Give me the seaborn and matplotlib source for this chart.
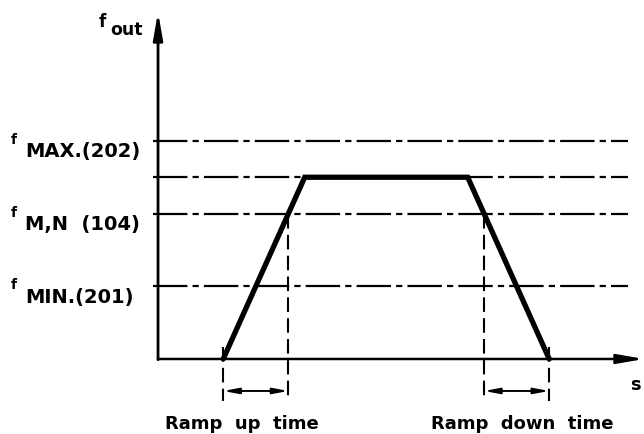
import matplotlib
matplotlib.use("Agg")
import matplotlib.pyplot as plt
import matplotlib.transforms as mtransforms
import seaborn as sns
import pandas as pd

# ---------------- data ----------------
ramp_time = [0.8, 1.8, 3.8, 4.8]          # time points of the speed profile
ramp_freq = [0.0, 2.5, 2.5, 0.0]          # output frequency at those times
level_names = ["MAX.(202)", "M,N  (104)", "MIN.(201)"]
level_values = [3.0, 2.0, 1.0]
plateau_level = 2.5
ramp_up_marks = [0.8, 1.6]                # start / reach f_M,N
ramp_down_marks = [4.0, 4.8]              # leave f_M,N / stop
bottom_labels = ["Ramp  up  time", "Ramp  down  time"]
y_label_text = ("f", "out")
x_label_text = "s"

# ---------------- figure ----------------
sns.set_theme(style="white")
plt.rcParams["font.family"] = ["DejaVu Sans"]
plt.rcParams["text.color"] = "black"
fig = plt.figure(figsize=(6.44, 4.35), dpi=100)
ax = fig.add_axes([0, 0, 1, 1])
XLIM = (-1.939, 5.963)
YLIM = (-1.032, 4.952)

blend = mtransforms.blended_transform_factory(ax.transAxes, ax.transData)

# dash-dot horizontal reference lines
dashdot = (0, (15.5, 2.3, 2.8, 2.3))
for lv in level_values + [plateau_level]:
    ax.plot([0.2379, 0.975], [lv, lv], transform=blend, color="black",
            lw=1.6, linestyle=dashdot, dash_capstyle="butt")

# axes with arrows
ax.annotate("", xy=(5.963, 0), xytext=(0, 0),
            arrowprops=dict(arrowstyle="-|>,head_length=1.6,head_width=0.28",
                            lw=1.8, color="black", mutation_scale=10,
                            shrinkA=0, shrinkB=0))
ax.annotate("", xy=(0, 4.773), xytext=(0, -0.01),
            arrowprops=dict(arrowstyle="-|>,head_length=1.6,head_width=0.28",
                            lw=2.0, color="black", mutation_scale=10,
                            shrinkA=0, shrinkB=0))

# vertical dashed construction lines
dim_y = -0.44
bottom_y = -0.58
for t in [ramp_up_marks[0], ramp_down_marks[1]]:
    ax.plot([t, t], [0.16, bottom_y], color="black", lw=1.5,
            linestyle=(0, (7, 3)))
for t in [ramp_up_marks[1], ramp_down_marks[0]]:
    ax.plot([t, t], [level_values[1], bottom_y], color="black", lw=1.5,
            linestyle=(0, (7, 3)))

# dimension arrows
for a, b in [ramp_up_marks, ramp_down_marks]:
    ax.annotate("", xy=(b, dim_y), xytext=(a, dim_y),
                arrowprops=dict(arrowstyle="<|-|>,head_length=0.9,head_width=0.17",
                                lw=1.4, color="black", mutation_scale=10,
                                shrinkA=0, shrinkB=0))

# speed profile
df = pd.DataFrame({"t": ramp_time, "f": ramp_freq})
sns.lineplot(data=df, x="t", y="f", ax=ax, color="black", lw=3.8,
             sort=False, estimator=None, solid_joinstyle="miter")
ax.set_xlim(*XLIM)
ax.set_ylim(*YLIM)
ax.axis("off")

# level labels
for name, lv in zip(level_names, level_values):
    ax.annotate("f", xy=(0.017, lv), xycoords=blend, xytext=(0, 1.5),
                textcoords="offset points", fontsize=10, fontweight="bold",
                ha="left", va="center", color="black")
    ax.annotate(name, xy=(0.0395, lv), xycoords=blend, xytext=(0, -7),
                textcoords="offset points", fontsize=14, fontweight="bold",
                ha="left", va="center", color="black")

# axis labels
ax.text(0.153, 0.938, y_label_text[0], transform=ax.transAxes,
        fontsize=12, fontweight="bold", ha="left", va="baseline")
ax.text(0.222, 0.920, y_label_text[1], transform=ax.transAxes,
        fontsize=12.5, fontweight="bold", ha="right", va="baseline")
ax.text(0.986, 0.115, x_label_text, transform=ax.transAxes,
        fontsize=13, fontweight="bold", ha="center", va="center")

# bottom labels
ax.text(0.376, 0.025, bottom_labels[0], transform=ax.transAxes,
        fontsize=13, fontweight="bold", ha="center", va="center")
ax.text(0.811, 0.025, bottom_labels[1], transform=ax.transAxes,
        fontsize=13, fontweight="bold", ha="center", va="center")

fig.savefig("out.png", dpi=100)
